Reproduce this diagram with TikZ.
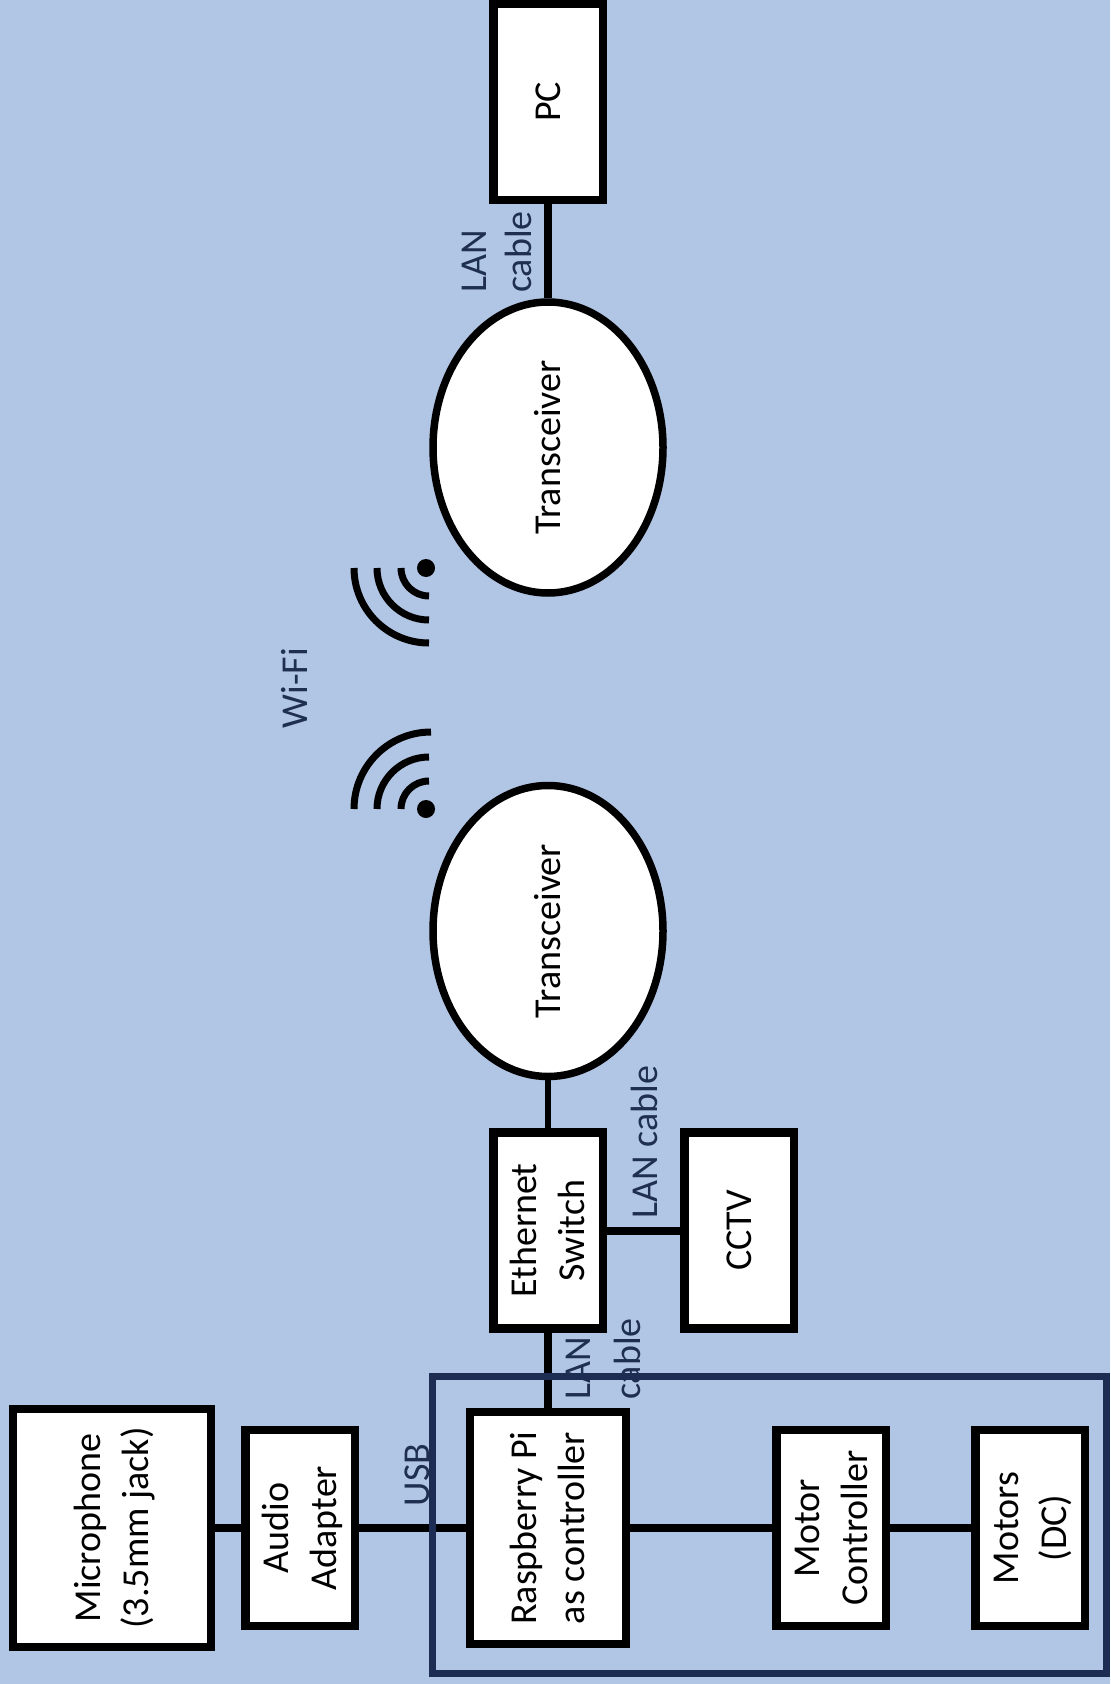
\documentclass[tikz,border=0pt]{standalone}
\usepackage{fontspec}
\setmainfont{Carlito}
\usetikzlibrary{positioning,shapes.geometric}

\definecolor{panelblue}{HTML}{B1C5E5}
\definecolor{framenavy}{HTML}{1C2C52}
\definecolor{labelnavy}{HTML}{1F2F50}

\newcommand{\vtext}[1]{\hspace*{3pt}\rotatebox{90}{\begin{tabular}{@{}c@{}}#1\end{tabular}}}
\newcommand{\vlabel}[1]{\hspace*{3pt}\rotatebox{90}{\begin{tabular}{@{}l@{}}#1\end{tabular}}}

\begin{document}
\begin{tikzpicture}[
x=0.5pt,
y=-0.5pt,
block/.style={
draw,
fill=white,
line width=4.25pt,
inner sep=0pt,
font=\fontsize{19}{24}\selectfont,
minimum width=54.75pt,
minimum height=98pt
},
bigblock/.style={
block,
minimum width=78pt,
minimum height=116pt
},
radio/.style={
block,
ellipse,
line width=3.75pt,
minimum width=115pt,
minimum height=145.5pt
},
link/.style={
line width=4pt
},
linklabel/.style={
text=labelnavy,
inner sep=0pt,
font=\fontsize{19}{24}\selectfont
},
wave/.style={
line width=3.5pt
},
dot/.style={
circle,
fill=black,
inner sep=0pt,
minimum size=9pt
}
]

% background
\useasboundingbox (0,0) rectangle (1110,1684);
\fill[panelblue] (0,0) rectangle (1110,1684);


% Input side
\node[block,minimum width=99pt,minimum height=119pt] (mic) at (112,1528)
{\vtext{Microphone\\(3.5mm jack)}};

\node[block,right=13pt of mic] (audio)
{\vtext{Audio\\Adapter}};

\node[bigblock,right=53.25pt of audio] (pi)
{\vtext{Raspberry Pi\\as controller}};

\node[block,right=71pt of pi] (motorctl)
{\vtext{Motor\\Controller}};

\node[block,right=40.5pt of motorctl] (motors)
{\vtext{Motors\\(DC)}};


% Network side
\node[block,above=37.5pt of pi] (switch)
{\vtext{Ethernet\\Switch}};

\node[block,right=36.5pt of switch] (cctv)
{\vtext{CCTV}};

\node[radio,above=24pt of switch] (radiolow)
{\vtext{Transceiver}};

\node[radio,above=92.5pt of radiolow] (radioup)
{\vtext{Transceiver}};

\node[block,above=47pt of radioup] (pc)
{\vtext{PC}};


% arrows
\draw[link] (mic)--(audio);
\draw[link] (audio)--(pi);
\draw[link] (pi)--(motorctl);
\draw[link] (motorctl)--(motors);
\draw[link] (pi)--(switch);
\draw[link] (switch)--(cctv);
\draw[link,line width=3pt] (switch)--(radiolow);
\draw[link] (radioup)--(pc);


% labels
\node[linklabel,font=\fontsize{19}{22.5}\selectfont] (lanpc) at (497,252) {\vlabel{LAN\\cable}};
\node[linklabel] (lancctv) at (645,1142) {\vlabel{LAN cable}};
\node[linklabel,font=\fontsize{19}{25}\selectfont] (lanpi) at (602,1359) {\vlabel{LAN\\cable}};
\node[linklabel] (usb) at (417,1475) {\vlabel{USB}};
\node[linklabel] (wifi) at (295,688) {\vlabel{Wi-Fi}};


% wifi signs
\node[dot] (dotup) at (426,568) {};
\draw[wave] ([xshift=-12.5pt]dotup.center) arc[start angle=180,end angle=270,radius=14pt];
\draw[wave] ([xshift=-24.5pt]dotup.center) arc[start angle=180,end angle=270,radius=26pt];
\draw[wave] ([xshift=-36pt]dotup.center) arc[start angle=180,end angle=270,radius=37.5pt];

\node[dot] (dotlow) at (426,809) {};
\draw[wave] ([xshift=-12.5pt]dotlow.center) arc[start angle=180,end angle=90,radius=14pt];
\draw[wave] ([xshift=-24.5pt]dotlow.center) arc[start angle=180,end angle=90,radius=26pt];
\draw[wave] ([xshift=-36pt]dotlow.center) arc[start angle=180,end angle=90,radius=38.5pt];


% grupos
\node[
draw=framenavy,
line width=3.5pt,
inner sep=0pt,
minimum width=337pt,
minimum height=148.5pt
] (robot) at (769,1524.5) {};

\end{tikzpicture}
\end{document}
